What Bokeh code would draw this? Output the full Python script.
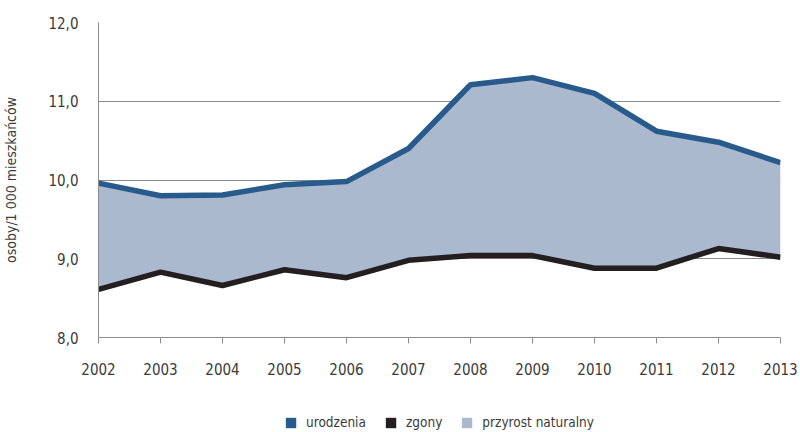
from bokeh.plotting import figure
from bokeh.layouts import column
from bokeh.models import ColumnDataSource, Legend, LegendItem, FixedTicker
from bokeh.embed import file_html
from bokeh.resources import INLINE

years = [2002, 2003, 2004, 2005, 2006, 2007, 2008, 2009, 2010, 2011, 2012, 2013]
urodzenia = [9.96, 9.80, 9.81, 9.94, 9.98, 10.40, 11.21, 11.30, 11.10, 10.62, 10.48, 10.22]
zgony = [8.61, 8.83, 8.66, 8.86, 8.76, 8.98, 9.04, 9.04, 8.88, 8.88, 9.13, 9.02]
y_ticks = [8, 9, 10, 11, 12]
y_tick_labels = ["8,0", "9,0", "10,0", "11,0", "12,0"]
series_names = ["urodzenia", "zgony", "przyrost naturalny"]

FONT = "DejaVu Sans Condensed"
TXT = "#3a3a3a"
BLUE = "#285b8c"
BLACK = "#231f20"
AREA = "#abb9cf"
GRID = "#8c8c8c"

src = ColumnDataSource(dict(x=years, u=urodzenia, z=zgony))

p = figure(width=800, height=400, output_backend="svg", toolbar_location=None,
           x_range=(2002, 2013), y_range=(8, 12),
           min_border_left=96, min_border_right=20, min_border_top=22, min_border_bottom=63)
p.outline_line_color = None
p.background_fill_color = "white"

p.varea(x="x", y1="z", y2="u", source=src, fill_color=AREA)
p.line(x="x", y="u", source=src, line_color=BLUE, line_width=5.5)
p.line(x="x", y="z", source=src, line_color=BLACK, line_width=5.5)

# x axis
p.xaxis.ticker = FixedTicker(ticks=years)
p.xaxis.axis_line_color = GRID
p.xaxis.major_tick_line_color = GRID
p.xaxis.major_tick_out = 6
p.xaxis.major_tick_in = 0
p.xaxis.minor_tick_line_color = None
p.xaxis.major_label_text_font = FONT
p.xaxis.major_label_text_font_size = "15px"
p.xaxis.major_label_text_color = TXT
p.xaxis.major_label_standoff = 19

# y axis
p.yaxis.ticker = FixedTicker(ticks=y_ticks)
p.yaxis.major_label_overrides = {t: l for t, l in zip(y_ticks, y_tick_labels)}
p.yaxis.axis_line_color = GRID
p.yaxis.major_tick_line_color = None
p.yaxis.minor_tick_line_color = None
p.yaxis.major_label_text_font = FONT
p.yaxis.major_label_text_font_size = "15px"
p.yaxis.major_label_text_color = TXT
p.yaxis.major_label_standoff = 14
p.yaxis.axis_label = "osoby/1 000 mieszkańców"
p.yaxis.axis_label_text_font = FONT
p.yaxis.axis_label_text_font_size = "14px"
p.yaxis.axis_label_text_font_style = "normal"
p.yaxis.axis_label_text_color = TXT
p.yaxis.axis_label_standoff = 26

p.xgrid.grid_line_color = None
p.ygrid.grid_line_color = GRID
p.ygrid.grid_line_width = 1

# legend strip below the chart
pl = figure(width=800, height=32, output_backend="svg", toolbar_location=None,
            x_range=(0, 1), y_range=(0, 1), x_axis_location=None, y_axis_location=None,
            min_border_left=78, min_border_right=0, min_border_top=0, min_border_bottom=0)
pl.outline_line_color = None
pl.xgrid.visible = False
pl.ygrid.visible = False

nan = float("nan")
swatch = ColumnDataSource(dict(l=[nan], r=[nan], b=[nan], t=[nan]))
r1 = pl.quad(left="l", right="r", bottom="b", top="t", source=swatch, fill_color=BLUE, line_color=None)
r2 = pl.quad(left="l", right="r", bottom="b", top="t", source=swatch, fill_color=BLACK, line_color=None)
r3 = pl.quad(left="l", right="r", bottom="b", top="t", source=swatch, fill_color=AREA, line_color=None)

legend = Legend(items=[LegendItem(label=series_names[0], renderers=[r1]),
                       LegendItem(label=series_names[1], renderers=[r2]),
                       LegendItem(label=series_names[2], renderers=[r3])],
                orientation="horizontal", location="bottom_center",
                glyph_width=13, glyph_height=13, label_standoff=9, spacing=18,
                padding=0, margin=2, border_line_color=None, background_fill_alpha=0,
                label_text_font=FONT, label_text_font_size="13.5px", label_text_color=TXT)
pl.add_layout(legend, "center")

layout = column(p, pl, spacing=0)
open("out.html", "w").write(file_html(layout, INLINE))
